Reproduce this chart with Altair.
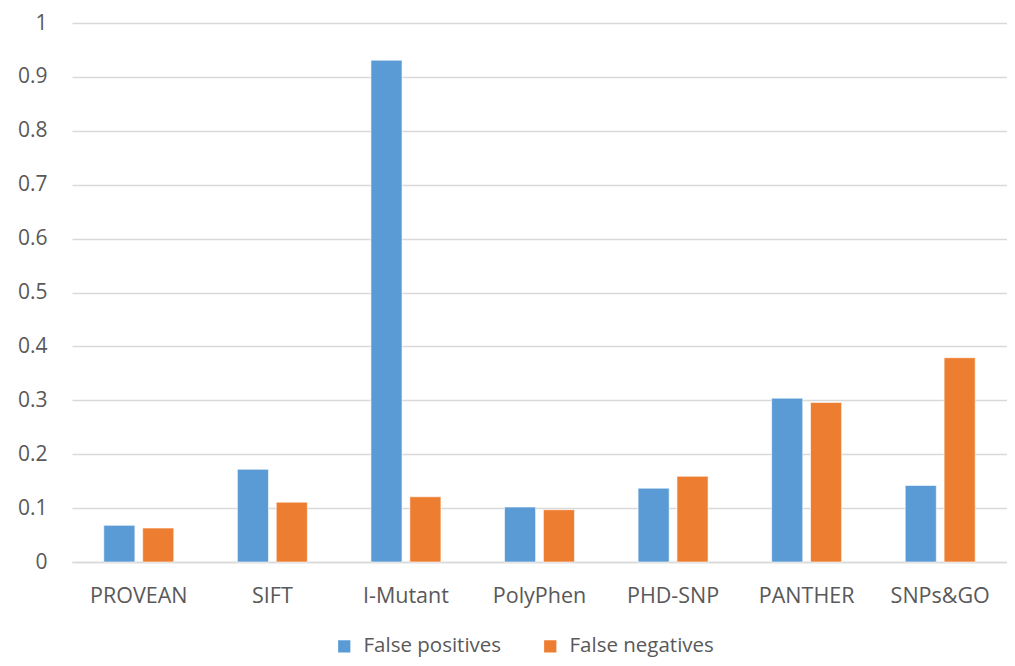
import altair as alt
import pandas as pd

categories = ["PROVEAN", "SIFT", "I-Mutant", "PolyPhen", "PHD-SNP", "PANTHER", "SNPs&GO"]
false_positives = [0.068, 0.172, 0.931, 0.102, 0.137, 0.304, 0.142]
false_negatives = [0.063, 0.111, 0.121, 0.097, 0.159, 0.296, 0.379]
series = ["False positives", "False negatives"]
colors = ["#5B9BD5", "#ED7D31"]
y_ticks = [0, 0.1, 0.2, 0.3, 0.4, 0.5, 0.6, 0.7, 0.8, 0.9, 1]

rows = []
for c, fp, fn in zip(categories, false_positives, false_negatives):
    rows.append({"tool": c, "series": series[0], "value": fp})
    rows.append({"tool": c, "series": series[1], "value": fn})
df = pd.DataFrame(rows)

FONT = "Open Sans"
GRAY = "#595959"

chart = alt.Chart(df).mark_bar(stroke="white", strokeWidth=0.6).encode(
    x=alt.X("tool:N", sort=categories, title=None,
            scale=alt.Scale(paddingInner=0.476, paddingOuter=0.238),
            axis=alt.Axis(labelAngle=0, labelFont=FONT, labelFontSize=21.5, labelColor=GRAY,
                          ticks=False, domainColor="#D9D9D9", domainWidth=1.5,
                          labelPadding=23, grid=False)),
    xOffset=alt.XOffset("series:N", sort=series, scale=alt.Scale(paddingInner=0.2)),
    y=alt.Y("value:Q", title=None,
            scale=alt.Scale(domain=[0, 1], nice=False),
            axis=alt.Axis(values=y_ticks, labelFont=FONT, labelFontSize=21, labelColor=GRAY,
                          ticks=False, domain=False, gridColor="#D9D9D9", gridWidth=1.3,
                          labelPadding=25, minExtent=64, maxExtent=64,
                          labelExpr="datum.value == 0 ? '0' : datum.value == 1 ? '1' : format(datum.value, '.1f')")),
    color=alt.Color("series:N", sort=series,
                    scale=alt.Scale(domain=series, range=colors),
                    legend=alt.Legend(title=None, orient="none", direction="horizontal",
                                      legendX=262, legendY=613,
                                      labelFont=FONT, labelFontSize=20.5, labelColor=GRAY,
                                      symbolType="square", symbolSize=150, symbolStrokeWidth=0,
                                      columnPadding=38, labelOffset=9)),
).properties(
    width=935, height=539,
    autosize=alt.AutoSizeParams(type="none"),
    padding={"left": 64, "top": 15, "right": 0, "bottom": 96},
).configure(background="white").configure_view(stroke=None)

chart.save("out.html", embed_options={"renderer": "svg", "actions": False})
